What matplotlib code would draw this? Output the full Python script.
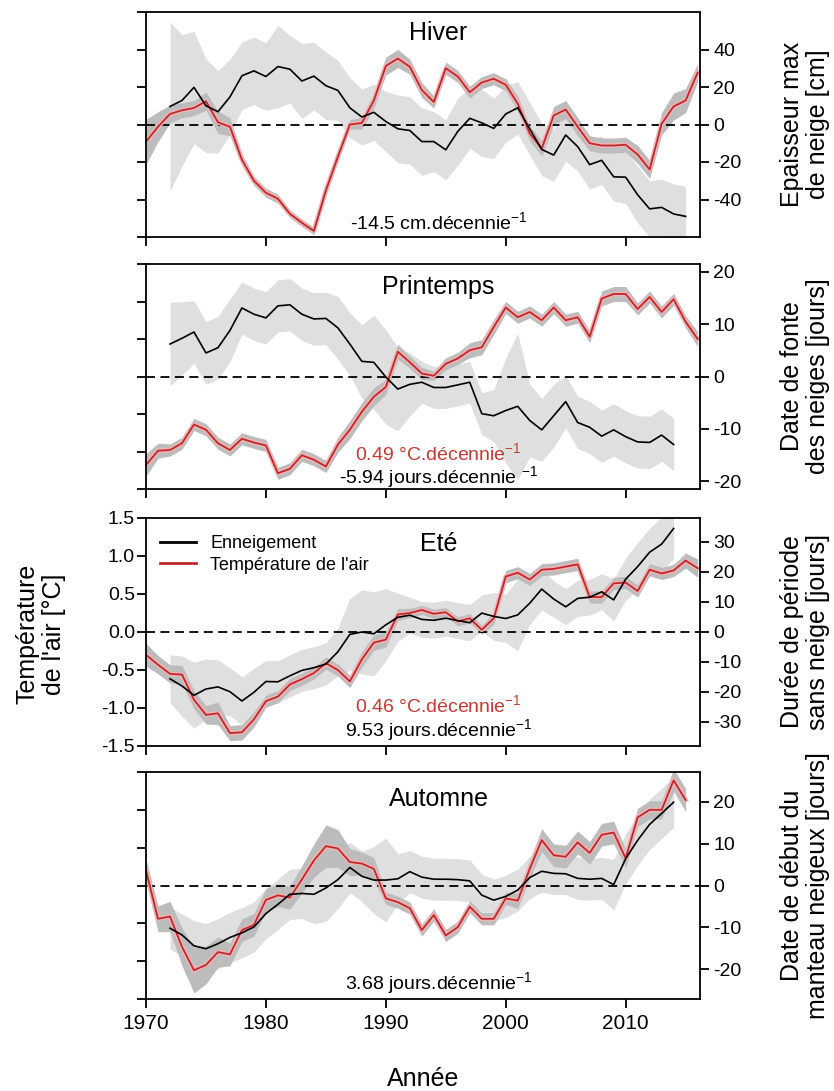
import numpy as np
import matplotlib
matplotlib.use('Agg')
import matplotlib.pyplot as plt
import matplotlib.patheffects as pe
from matplotlib.lines import Line2D

plt.rcParams['font.family'] = ['Liberation Sans', 'DejaVu Sans']
plt.rcParams['mathtext.default'] = 'regular'
plt.rcParams['axes.unicode_minus'] = False

# ---------------- data ----------------
years_t_full = list(range(1970, 2017))   # 1970-2016
years_t_aut = list(range(1970, 2016))    # 1970-2015
years_s_hiv = list(range(1972, 2016))    # 1972-2015
years_s = list(range(1972, 2015))        # 1972-2014

hiver_temp = [-0.23, -0.03, 0.14, 0.19, 0.22, 0.31, 0.03, -0.03, -0.47, -0.75,
              -0.91, -0.99, -1.19, -1.31, -1.42, -0.88, -0.43, 0.0, 0.02, 0.32,
              0.78, 0.88, 0.77, 0.46, 0.30, 0.75, 0.64, 0.43, 0.56, 0.61,
              0.53, 0.28, -0.12, -0.32, 0.12, 0.20, -0.03, -0.25, -0.28, -0.28,
              -0.27, -0.40, -0.60, 0.01, 0.24, 0.32, 0.69]
hiver_temp_band = [0.30, 0.20, 0.12, 0.10, 0.10, 0.12, 0.15, 0.12, 0.08, 0.06,
                   0.06, 0.06, 0.05, 0.05, 0.05, 0.06, 0.06, 0.06, 0.08, 0.10,
                   0.12, 0.12, 0.10, 0.10, 0.08, 0.08, 0.08, 0.08, 0.08, 0.08,
                   0.08, 0.10, 0.10, 0.10, 0.12, 0.12, 0.12, 0.10, 0.10, 0.10,
                   0.10, 0.12, 0.12, 0.15, 0.18, 0.16, 0.12]
hiver_snow = [9.6, 12.8, 19.8, 10.0, 6.8, 14.7, 26.0, 28.6, 25.6, 30.9,
              29.5, 23.2, 25.8, 20.7, 18.2, 8.9, 4.0, 6.5, 1.6, -2.3,
              -3.2, -9.1, -9.1, -13.5, -3.7, 3.3, 0.9, -2.1, 5.6, 8.9,
              -2.3, -13.3, -16.3, -5.6, -11.8, -21.4, -19.1, -27.9, -28.1, -37.5,
              -45.0, -44.2, -47.7, -49.0]
hiver_snow_band = [45, 35, 30, 25, 22, 20, 18, 18, 18, 22,
                   18, 20, 18, 18, 16, 16, 15, 15, 16, 18,
                   18, 18, 16, 16, 18, 16, 18, 16, 15, 14,
                   14, 14, 14, 14, 13, 13, 13, 13, 14, 15,
                   15, 15, 16, 16]

print_temp = [-1.18, -0.99, -0.98, -0.89, -0.64, -0.71, -0.89, -0.98, -0.83, -0.88,
              -0.92, -1.29, -1.23, -1.05, -1.11, -1.20, -0.91, -0.71, -0.47, -0.27,
              -0.14, 0.33, 0.19, 0.04, 0.01, 0.17, 0.24, 0.35, 0.39, 0.66,
              0.92, 0.79, 0.86, 0.75, 0.92, 0.75, 0.79, 0.53, 1.04, 1.10,
              1.10, 0.90, 1.06, 0.86, 1.03, 0.73, 0.50]
print_temp_band = [0.15, 0.10, 0.08, 0.08, 0.08, 0.08, 0.08, 0.08, 0.08, 0.08,
                   0.08, 0.08, 0.08, 0.08, 0.08, 0.08, 0.10, 0.12, 0.12, 0.12,
                   0.10, 0.10, 0.08, 0.08, 0.06, 0.08, 0.08, 0.10, 0.10, 0.10,
                   0.08, 0.08, 0.08, 0.08, 0.08, 0.08, 0.08, 0.08, 0.10, 0.10,
                   0.10, 0.08, 0.08, 0.08, 0.08, 0.08, 0.10]
print_snow = [6.2, 7.3, 8.5, 4.5, 5.5, 8.8, 13.1, 11.9, 11.2, 13.5,
              13.7, 11.9, 11.0, 11.1, 9.3, 6.2, 2.9, 2.7, -0.1, -2.4,
              -1.5, -1.1, -2.1, -2.1, -1.6, -1.1, -7.1, -7.5, -6.5, -5.7,
              -8.4, -10.2, -7.5, -4.8, -8.8, -9.7, -11.4, -10.2, -11.5, -12.5,
              -12.6, -11.2, -13.0]
print_snow_band = [8, 7, 6, 6, 6, 6, 5, 5, 5, 5,
                   5, 5, 5, 5, 6, 6, 7, 9, 9, 8,
                   6, 4, 4, 4, 4, 4, 4, 5, 10, 14,
                   7, 6, 6, 5, 5, 5, 5, 5, 5, 5,
                   5, 5, 5]

ete_temp = [-0.30, -0.43, -0.55, -0.56, -0.89, -1.09, -1.07, -1.33, -1.32, -1.15,
            -0.91, -0.85, -0.69, -0.62, -0.54, -0.41, -0.50, -0.65, -0.36, -0.14,
            -0.10, 0.23, 0.25, 0.29, 0.24, 0.26, 0.14, 0.18, 0.03, 0.18,
            0.73, 0.78, 0.69, 0.82, 0.83, 0.86, 0.89, 0.46, 0.46, 0.64,
            0.65, 0.54, 0.82, 0.77, 0.81, 0.94, 0.84]
ete_temp_band = [0.15, 0.12, 0.12, 0.12, 0.12, 0.12, 0.15, 0.10, 0.10, 0.10,
                 0.08, 0.08, 0.08, 0.08, 0.08, 0.08, 0.08, 0.08, 0.10, 0.10,
                 0.10, 0.08, 0.06, 0.06, 0.06, 0.06, 0.06, 0.06, 0.06, 0.08,
                 0.08, 0.08, 0.08, 0.08, 0.08, 0.08, 0.08, 0.08, 0.08, 0.08,
                 0.08, 0.08, 0.08, 0.08, 0.08, 0.10, 0.12]
ete_snow = [-15.6, -18.0, -21.1, -19.0, -18.3, -19.9, -23.0, -20.1, -16.5, -16.6,
            -14.6, -12.8, -11.9, -10.7, -6.6, -0.8, 0.0, -0.6, 2.4, 4.9,
            5.6, 4.2, 3.9, 4.6, 3.8, 3.1, 6.3, 5.2, 4.5, 5.7,
            9.6, 14.3, 11.0, 8.4, 11.2, 11.6, 13.4, 10.7, 17.6, 21.8,
            26.6, 29.3, 34.5]
ete_snow_band = [8, 10, 11, 10, 9, 8, 8, 8, 7, 7,
                 7, 7, 7, 7, 8, 12, 14, 14, 12, 8,
                 6, 6, 6, 6, 6, 6, 6, 8, 8, 12,
                 7, 7, 6, 6, 6, 6, 6, 7, 7, 8,
                 8, 9, 10]

aut_temp = [0.20, -0.44, -0.41, -0.81, -1.12, -1.05, -0.88, -0.91, -0.59, -0.52,
            -0.19, -0.13, -0.16, 0.08, 0.33, 0.52, 0.49, 0.31, 0.29, 0.22,
            -0.17, -0.22, -0.30, -0.59, -0.39, -0.66, -0.55, -0.28, -0.44, -0.44,
            -0.17, -0.20, 0.22, 0.60, 0.40, 0.38, 0.57, 0.43, 0.67, 0.70,
            0.36, 0.90, 1.00, 1.00, 1.39, 1.13]
aut_temp_band = [0.15, 0.17, 0.20, 0.25, 0.30, 0.25, 0.20, 0.15, 0.15, 0.15,
                 0.15, 0.15, 0.15, 0.18, 0.22, 0.28, 0.25, 0.18, 0.15, 0.15,
                 0.08, 0.08, 0.08, 0.08, 0.08, 0.08, 0.08, 0.08, 0.08, 0.08,
                 0.08, 0.10, 0.12, 0.15, 0.15, 0.15, 0.15, 0.15, 0.15, 0.15,
                 0.12, 0.12, 0.12, 0.12, 0.15, 0.15]
aut_snow = [-10.2, -11.8, -14.4, -15.1, -13.9, -12.4, -11.3, -9.9, -6.7, -4.5,
            -2.1, -1.9, -2.1, -0.6, 1.4, 4.3, 2.2, 1.3, 1.3, 1.6,
            3.3, 2.0, 1.5, 1.5, 1.4, 1.1, -2.3, -3.5, -2.6, -1.1,
            1.9, 3.4, 2.9, 2.8, 1.7, 1.5, 1.7, 0.2, 6.4, 10.8,
            14.6, 17.2, 19.9]
aut_snow_band = [5, 5, 6, 6, 6, 6, 6, 6, 6, 6,
                 6, 6, 7, 8, 7, 6, 6, 8, 10, 6,
                 5, 5, 5, 5, 5, 5, 5, 5, 5, 5,
                 5, 5, 5, 5, 5, 5, 5, 6, 6, 6,
                 6, 6, 6]

titles = ['Hiver', 'Printemps', 'Eté', 'Automne']
right_labels = ['Epaisseur max\nde neige [cm]',
                'Date de fonte\ndes neiges [jours]',
                'Durée de période\nsans neige [jours]',
                'Date de début du\nmanteau neigeux [jours]']
right_ticks = [[-40, -20, 0, 20, 40], [-20, -10, 0, 10, 20],
               [-30, -20, -10, 0, 10, 20, 30], [-20, -10, 0, 10, 20]]
right_lims = [(-60, 60), (-21.5, 21.5), (-38, 38), (-27.1, 27.1)]
left_ticks = [-1.5, -1.0, -0.5, 0.0, 0.5, 1.0, 1.5]
x_ticks = [1970, 1980, 1990, 2000, 2010]
trend_temp = [None, '0.49 °C.décennie$^{-1}$', '0.46 °C.décennie$^{-1}$', None]
trend_snow = ['-14.5 cm.décennie$^{-1}$', '-5.94 jours.décennie $^{-1}$',
              '9.53 jours.décennie$^{-1}$', '3.68 jours.décennie$^{-1}$']

series = [
    (years_t_full, hiver_temp, hiver_temp_band, years_s_hiv, hiver_snow, hiver_snow_band),
    (years_t_full, print_temp, print_temp_band, years_s, print_snow, print_snow_band),
    (years_t_full, ete_temp, ete_temp_band, years_s, ete_snow, ete_snow_band),
    (years_t_aut, aut_temp, aut_temp_band, years_s, aut_snow, aut_snow_band),
]

# ---------------- layout ----------------
W, H = 834, 1091
fig = plt.figure(figsize=(W / 100, H / 100), dpi=100)
L, R = 146, 700
panel_px = [(12, 237), (264, 489), (518, 746), (772, 999)]
title_y = [0.906, 0.898, 0.886, 0.881]
temp_ty = [None, 0.16, 0.18, None]
snow_ty = [0.067, 0.053, 0.07, 0.07]

RED = '#c0272d'
HALO = '#efb4b4'
DARK = '#bcbcbc'
LIGHT = '#dfdfdf'

for i, (top, bot) in enumerate(panel_px):
    rect = [L / W, 1 - bot / H, (R - L) / W, (bot - top) / H]
    ax = fig.add_axes(rect)
    axs = ax.twinx()
    axl = ax.twinx()
    axs.set_zorder(1)
    ax.set_zorder(2)
    ax.patch.set_visible(False)
    axl.set_zorder(3)
    axl.patch.set_visible(False)

    yt, temp, tband, ys, snow, sband = series[i]
    temp = np.array(temp); tband = np.array(tband)
    snow = np.array(snow); sband = np.array(sband)

    axs.fill_between(ys, snow - sband, snow + sband, color=LIGHT, lw=0)
    ax.fill_between(yt, temp - tband, temp + tband, color=DARK, lw=0)
    ax.axhline(0, color='black', lw=1.3, ls=(0, (5, 3)))
    ax.plot(yt, temp, color=RED, lw=1.3, solid_joinstyle='round',
            path_effects=[pe.Stroke(linewidth=3.4, foreground=HALO), pe.Normal()])
    axl.plot(ys, snow, color='black', lw=1.2)

    for a in (ax, axs, axl):
        a.set_xlim(1970, 2016.2)
    ax.set_ylim(-1.5, 1.5)
    axs.set_ylim(*right_lims[i])
    axl.set_ylim(*right_lims[i])
    axl.set_axis_off()
    for s in axs.spines.values():
        s.set_visible(False)
    for s in ax.spines.values():
        s.set_linewidth(1.3)

    ax.set_xticks(x_ticks)
    ax.set_yticks(left_ticks)
    ax.tick_params(axis='both', direction='out', length=6.5, width=1.3)
    ax.tick_params(axis='x', labelsize=15, pad=4, labelbottom=(i == 3))
    ax.tick_params(axis='y', labelsize=14, pad=1.5, labelleft=(i == 2))
    ax.set_yticklabels(['%.1f' % v for v in left_ticks])
    axs.set_yticks(right_ticks[i])
    axs.set_yticklabels([str(v) for v in right_ticks[i]])
    axs.tick_params(axis='y', direction='out', length=6.5, width=1.3,
                    labelsize=14, pad=3)
    axs.tick_params(axis='x', bottom=False, labelbottom=False, top=False)

    xt = axl.get_xaxis_transform()
    axl.text(1994.4, title_y[i], titles[i], transform=xt,
             ha='center', va='center', fontsize=18)
    if trend_temp[i]:
        axl.text(1994.4, temp_ty[i], trend_temp[i], transform=xt,
                 ha='center', va='center', fontsize=14, color='#c43a34')
    axl.text(1994.4, snow_ty[i], trend_snow[i], transform=xt,
             ha='center', va='center', fontsize=14, color='black')

    fig.text(805 / W, 1 - (top + bot) / 2 / H, right_labels[i], rotation=90,
             ha='center', va='center', fontsize=18, linespacing=1.1)

    if i == 2:
        handles = [Line2D([], [], color='black', lw=2.0),
                   Line2D([], [], color=RED, lw=2.0)]
        axl.legend(handles, ['Enneigement', "Température de l'air"],
                   loc='upper left', bbox_to_anchor=(0.025, 0.925),
                   frameon=False, fontsize=13, handlelength=2.0,
                   handletextpad=0.8, borderaxespad=0, borderpad=0,
                   labelspacing=0.25)

fig.text(41 / W, 1 - 634 / H, "Température\nde l'air [°C]", rotation=90,
         ha='center', va='center', fontsize=18, linespacing=1.15)
fig.text(423 / W, 1 - 1079 / H, 'Année', ha='center', va='center', fontsize=18)

fig.savefig('out.png', dpi=100)
